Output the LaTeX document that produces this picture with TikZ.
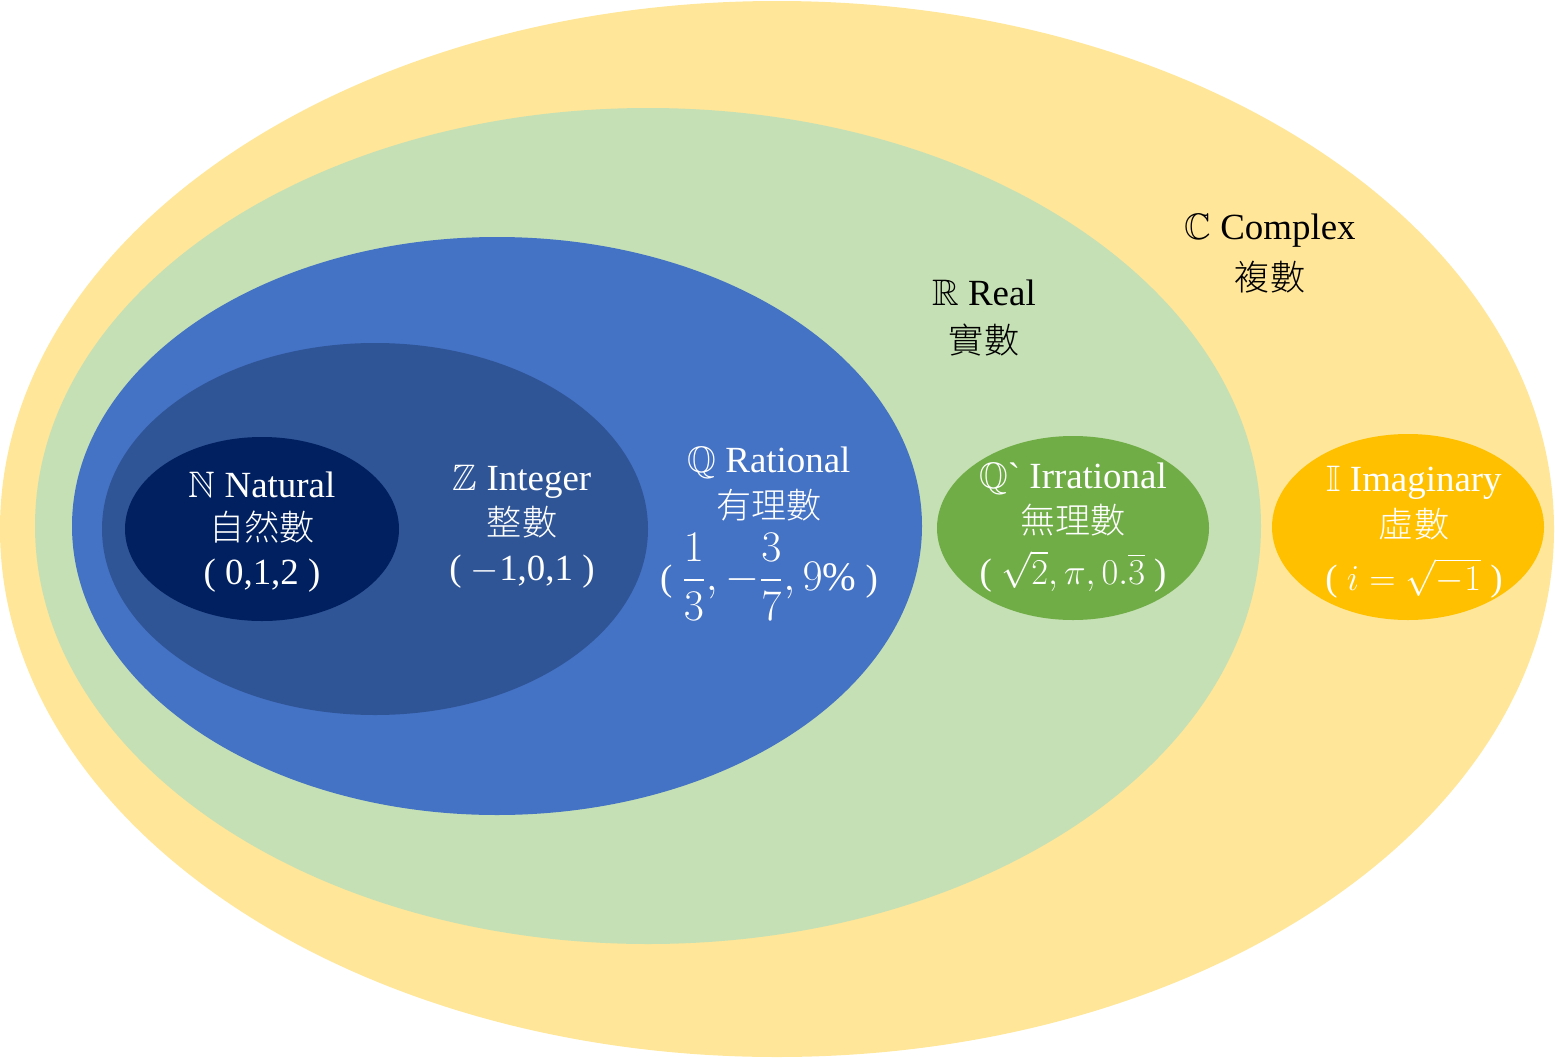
\documentclass[tikz,border=0pt]{standalone}
\usepackage{amsmath,amssymb}
\usepackage{fontspec}
\setmainfont{Liberation Serif}
\newfontfamily\cjk{Noto Sans CJK TC Light}
\definecolor{cyel}{HTML}{FFE699}
\definecolor{cgreen}{HTML}{C5E0B4}
\definecolor{crat}{HTML}{4472C4}
\definecolor{cint}{HTML}{2F5597}
\definecolor{cnat}{HTML}{002060}
\definecolor{cirr}{HTML}{70AD47}
\definecolor{cimg}{HTML}{FFC000}
\tikzset{
  lat/.style={font=\fontsize{21}{25}\selectfont, inner sep=0pt},
  han/.style={font=\fontsize{20}{24}\selectfont\cjk, inner sep=0pt, text height=0.8em, text depth=0.1em, yshift=-7*0.02cm},
  mth/.style={font=\fontsize{21}{25}\selectfont, inner sep=0pt},
  rootline/.style={mth, anchor=base, text height=0.75em, text depth=0.25em},
  wt/.style={text=white},
  bk/.style={text=black}
}
\begin{document}
\begin{tikzpicture}[x=0.02cm,y=-0.02cm]
\useasboundingbox (0,0) rectangle (1555,1058);
% sets
\fill[cyel]   (777,529)  ellipse [x radius=777, y radius=528];
\fill[cgreen] (648,526)  ellipse [x radius=613, y radius=418];
\fill[crat]   (497,526)  ellipse [x radius=425, y radius=289];
\fill[cint]   (375,529)  ellipse [x radius=273, y radius=186];
\fill[cnat]   (262,529)  ellipse [x radius=137, y radius=92];
\fill[cirr]   (1073,528) ellipse [x radius=136, y radius=92];
\fill[cimg]   (1408,527) ellipse [x radius=136, y radius=93];
% Natural
\node[lat,wt] (nat1) at (262,485) {$\mathbb{N}$ Natural};
\node[han,wt] (nat2) at (262,527) {自然數};
\node[mth,wt] (nat3) at (262,576) {( 0,1,2 )};
% Integer
\node[lat,wt] (int1) at (522,482) {$\mathbb{Z}$ Integer};
\node[han,wt] (int2) at (522,522) {整數};
\node[mth,wt] (int3) at (522,572) {( $-$1,0,1 )};
% Rational
\node[lat,wt] (rat1) at (769,463) {$\mathbb{Q}$ Rational};
\node[han,wt] (rat2) at (769,505) {有理數};
\node[mth,wt] (rat3) at (769,577) {( {\fontsize{23}{27}\selectfont$\dfrac{1}{3},-\dfrac{3}{7},9\%$} )};
% Irrational
\node[lat,wt] (irr1) at (1073,479) {$\mathbb{Q}$\textasciigrave{} Irrational};
\node[han,wt] (irr2) at (1073,520) {無理數};
\node[rootline,wt] (irr3) at (1073,584) {( $\sqrt{2},\pi,0.\overline{3}$ )};
% Imaginary
\node[lat,wt] (img1) at (1414,483) {$\mathbb{I}$ Imaginary};
\node[han,wt] (img2) at (1414,524) {虛數};
\node[rootline,wt] (img3) at (1414,590) {( $i=\sqrt{-1}$ )};
% Real
\node[lat,bk] (real1) at (984,293) {$\mathbb{R}$ Real};
\node[han,bk] (real2) at (984,340) {實數};
% Complex
\node[lat,bk] (cpx1) at (1270,231) {$\mathbb{C}$ Complex};
\node[han,bk] (cpx2) at (1270,277) {複數};
\end{tikzpicture}
\end{document}
